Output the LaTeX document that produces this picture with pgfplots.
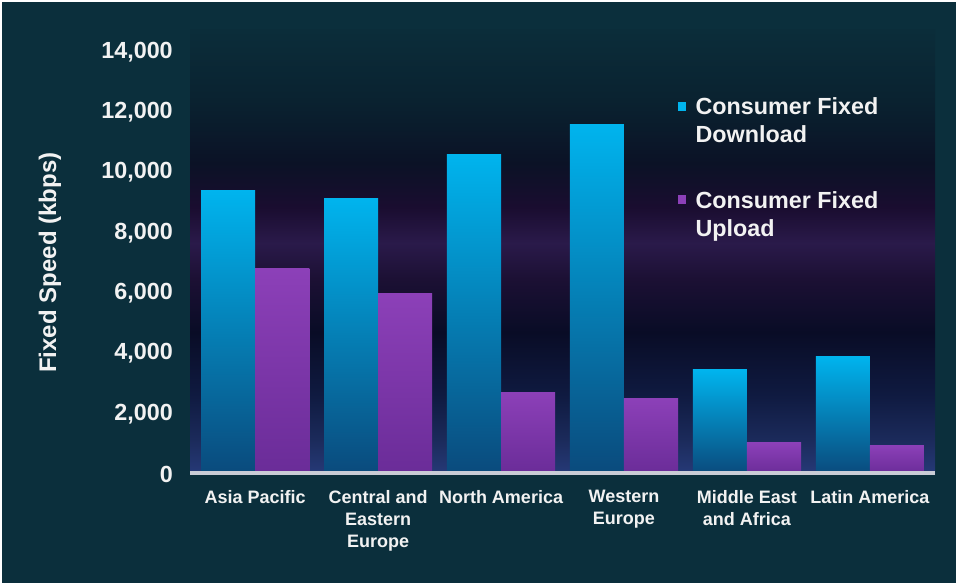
\documentclass[border=0pt]{standalone}
\usepackage{fontspec}
\setmainfont{Liberation Sans}
\usepackage{pgfplots}
\pgfplotsset{compat=1.18}

\definecolor{bgteal}{HTML}{0B2F3C}
\definecolor{dlTop}{HTML}{00B4EE}
\definecolor{dlBot}{HTML}{0A4A7C}
\definecolor{ulTop}{HTML}{8C40B8}
\definecolor{ulBot}{HTML}{6A2C98}
\definecolor{axgrey}{HTML}{C9CCD6}
\definecolor{txt}{HTML}{F2F2F2}
\definecolor{pb1}{HTML}{263A78}
\definecolor{pb2}{HTML}{1B2A5A}
\definecolor{pb3}{HTML}{0F1A40}
\definecolor{pb4}{HTML}{090C26}
\definecolor{pb5}{HTML}{1C1034}
\definecolor{pb6}{HTML}{2A1A4A}
\definecolor{pb7}{HTML}{1A0D30}
\definecolor{pb8}{HTML}{0B1226}
\definecolor{pb9}{HTML}{0A2230}
\definecolor{pb10}{HTML}{0B2D3A}

\pgfdeclareverticalshading{plotbg}{100bp}{%
  color(0bp)=(pb1); color(25bp)=(pb1); color(29bp)=(pb2); color(34bp)=(pb3);
  color(41bp)=(pb4); color(47bp)=(pb5); color(51bp)=(pb6); color(55bp)=(pb7);
  color(60bp)=(pb8); color(67bp)=(pb9); color(75bp)=(pb10); color(100bp)=(pb10)}

\pgfplotsset{
  dl/.style={ybar, bar width=0.44, bar shift=-0.22, draw=none, top color=dlTop, bottom color=dlBot, forget plot},
  ul/.style={ybar, bar width=0.44, bar shift=0.22, draw=none, top color=ulTop, bottom color=ulBot, forget plot},
}

\begin{document}
\begin{tikzpicture}
\fill[white] (0,0) rectangle (717pt,437.25pt);
\fill[bgteal] (1.5pt,0) rectangle (717pt,435.75pt);
\begin{axis}[
  at={(142.5pt,81.75pt)}, anchor=south west,
  scale only axis, width=558.75pt, height=333pt,
  xmin=-0.53, xmax=5.53, ymin=0, ymax=14726,
  axis background/.style={shade, shading=plotbg},
  axis line style={draw=none},
  major tick style={draw=none},
  xtick={0,1,2,3,4,5},
  xticklabels={Asia Pacific,{Central and\\Eastern\\Europe},North America,{Western\\Europe},{Middle East\\and Africa},Latin America},
  xticklabel style={align=center, anchor=north, inner sep=0pt, yshift=-12pt,
    font=\fontsize{13.5}{16.5}\selectfont\bfseries, text=txt},
  ytick={0,2000,4000,6000,8000,10000,12000,14000},
  scaled y ticks=false,
  yticklabel style={anchor=east, inner sep=0pt, xshift=-12.75pt,
    font=\fontsize{17.5}{20}\selectfont\bfseries, text=txt,
    /pgf/number format/.cd, 1000 sep={,}, assume math mode=true},
  ylabel={Fixed Speed (kbps)},
  every axis y label/.style={at={(axis description cs:-0.188,0.476)}, rotate=90, anchor=center,
    font=\fontsize{18}{21}\selectfont\bfseries, text=txt},
  legend style={at={(rel axis cs:0.6497,0.854)}, anchor=north west, draw=none, fill=none,
    text=txt, font=\fontsize{17.5}{21}\selectfont\bfseries,
    cells={align=left}, nodes={inner sep=0pt}, row sep=35pt, column sep=7pt},
  legend cell align=left,
  legend image code/.code={\fill (0pt,8pt) rectangle (6pt,14.5pt);},
]
% Consumer Fixed Download
\addplot[dl] coordinates {(0,9400)};
\addplot[dl] coordinates {(1,9150)};
\addplot[dl] coordinates {(2,10600)};
\addplot[dl] coordinates {(3,11600)};
\addplot[dl] coordinates {(4,3450)};
\addplot[dl] coordinates {(5,3900)};
% Consumer Fixed Upload
\addplot[ul] coordinates {(0,6800)};
\addplot[ul] coordinates {(1,5980)};
\addplot[ul] coordinates {(2,2700)};
\addplot[ul] coordinates {(3,2500)};
\addplot[ul] coordinates {(4,1030)};
\addplot[ul] coordinates {(5,960)};
\addlegendimage{fill=dlTop, draw=none}
\addlegendentry{Consumer Fixed\\Download}
\addlegendimage{fill=ulTop, draw=none}
\addlegendentry{Consumer Fixed\\Upload}
\draw[axgrey, line width=4.5pt] (rel axis cs:0,0) -- (rel axis cs:1,0);
\end{axis}
\end{tikzpicture}
\end{document}
